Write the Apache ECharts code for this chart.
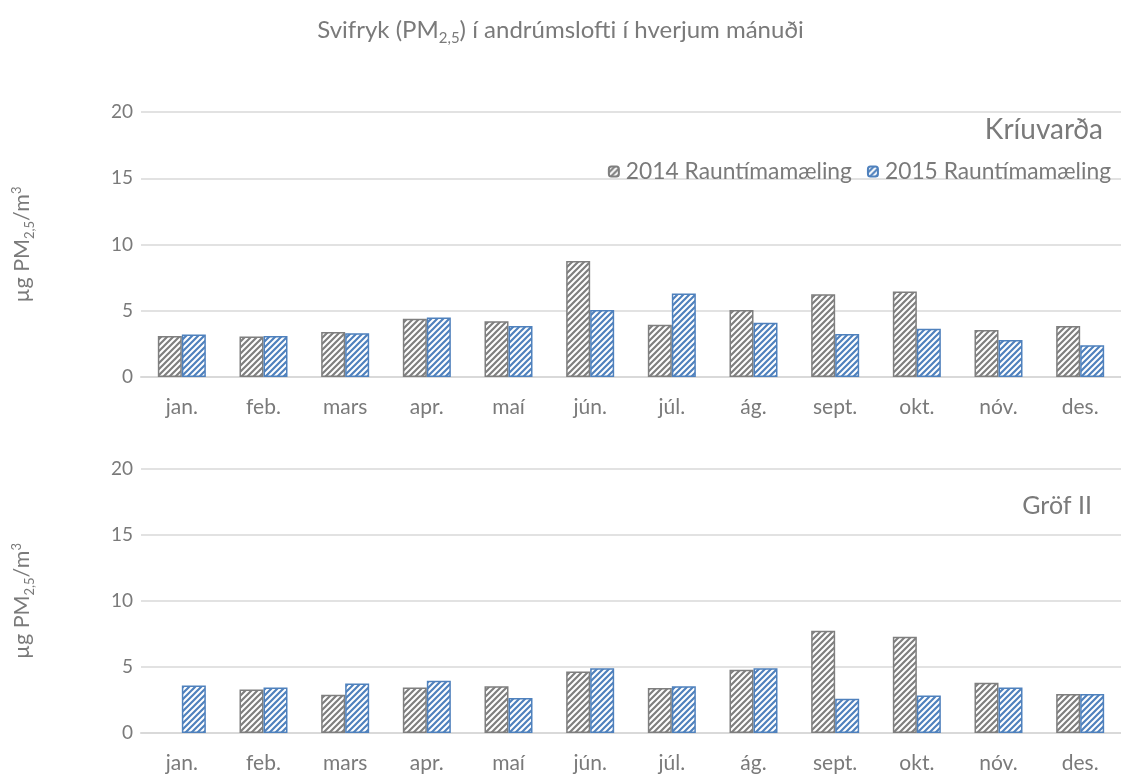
<!DOCTYPE html>
<html><head><meta charset="utf-8">
<script src="https://cdn.jsdelivr.net/npm/echarts@6/dist/echarts.min.js"></script>
<style>html,body{margin:0;padding:0;background:#fff}#c{width:1121px;height:778px}</style>
</head><body><div id="c"></div>
<script>
const months = ['jan.','feb.','mars','apr.','maí','jún.','júl.','ág.','sept.','okt.','nóv.','des.'];
const yTicks = [0,5,10,15,20];
const kriuvarda2014 = [3.1,3.05,3.4,4.4,4.2,8.75,3.95,5.05,6.25,6.45,3.55,3.85];
const kriuvarda2015 = [3.2,3.1,3.3,4.5,3.85,5.05,6.3,4.1,3.25,3.65,2.8,2.4];
const grof2014 = [null,3.3,2.9,3.45,3.55,4.65,3.4,4.8,7.75,7.3,3.8,2.95];
const grof2015 = [3.6,3.45,3.75,3.95,2.65,4.9,3.55,4.9,2.6,2.85,3.45,2.95];
const seriesNames = ['2014 Rauntímamæling','2015 Rauntímamæling'];
const panelNames = ['Kríuvarða','Gröf II'];

const FONT = 'Lato, "Open Sans", sans-serif';
const TXT = '#7a7a7a';
function pattern(color){
  const p = 6, c = document.createElement('canvas');
  c.width = p; c.height = p;
  const ctx = c.getContext('2d');
  ctx.fillStyle = '#fff'; ctx.fillRect(0,0,p,p);
  ctx.strokeStyle = color; ctx.lineWidth = 2.2; ctx.lineCap='square';
  ctx.beginPath();
  ctx.moveTo(0,p); ctx.lineTo(p,0);
  ctx.moveTo(-p/2,p/2); ctx.lineTo(p/2,-p/2);
  ctx.moveTo(p/2,p*1.5); ctx.lineTo(p*1.5,p/2);
  ctx.stroke();
  return {image:c, repeat:'repeat'};
}
const GRAY='#7f7f7f', BLUE='#4f81bd';
const pats = [pattern(GRAY), pattern(BLUE)];
const borders = [GRAY, BLUE];

const grids = [{left:141,width:982,top:112,height:265},{left:141,width:982,top:469,height:264}];
const nameRich = {
  a:{fontSize:21.5,color:TXT,fontFamily:FONT},
  s:{fontSize:13,color:TXT,fontFamily:FONT,padding:[14,0,0,0]},
  p:{fontSize:13,color:TXT,fontFamily:FONT,padding:[0,0,12,0]}
};
const xAxes = grids.map((g,i)=>({type:'category',gridIndex:i,data:months,
  axisLine:{lineStyle:{color:'#d9d9d9',width:2}},axisTick:{show:false},
  axisLabel:{color:TXT,fontSize:21,fontFamily:FONT,margin:20}}));
const yAxes = grids.map((g,i)=>({type:'value',gridIndex:i,min:yTicks[0],max:yTicks[yTicks.length-1],interval:5,
  axisLine:{show:false},axisTick:{show:false},
  axisLabel:{color:TXT,fontSize:19,fontFamily:FONT,margin:8},
  splitLine:{lineStyle:{color:'#d9d9d9',width:1.5}},
  name:'{a|µg PM}{s|2,5}{a|/m}{p|3}',nameLocation:'middle',nameRotate:90,nameGap:105,
  nameTextStyle:{rich:nameRich}}));
const data = [[kriuvarda2014,kriuvarda2015],[grof2014,grof2015]];
const series = [];
data.forEach((pair,gi)=>pair.forEach((vals,si)=>{
  series.push({type:'bar',name:seriesNames[si],xAxisIndex:gi,yAxisIndex:gi,data:vals,
    barWidth:24,barGap:'0%',
    itemStyle:{color:pats[si],borderColor:borders[si],borderWidth:1.5}});
}));
const chart = echarts.init(document.getElementById('c'));
chart.setOption({
  animation:false,
  title:[
    {text:'{a|Svifryk (PM}{s|2,5}{a|) í andrúmslofti í hverjum mánuði}',left:'center',top:10,
     textStyle:{rich:{a:{fontSize:24,fontWeight:'normal',color:TXT,fontFamily:FONT},
                      s:{fontSize:15,fontWeight:'normal',color:TXT,fontFamily:FONT,padding:[16,0,0,0]}}}},
    {text:panelNames[0],right:13,top:111,textStyle:{fontSize:28,fontWeight:'normal',color:TXT,fontFamily:FONT}},
    {text:panelNames[1],right:24,top:488,textStyle:{fontSize:25,fontWeight:'normal',color:TXT,fontFamily:FONT}}
  ],
  legend:{data:seriesNames,right:5,top:155,itemWidth:10,itemHeight:10,itemGap:15,
    textStyle:{color:TXT,fontSize:22.8,fontFamily:FONT,padding:[0,0,0,2]}},
  grid:grids,xAxis:xAxes,yAxis:yAxes,series:series
});
</script></body></html>
